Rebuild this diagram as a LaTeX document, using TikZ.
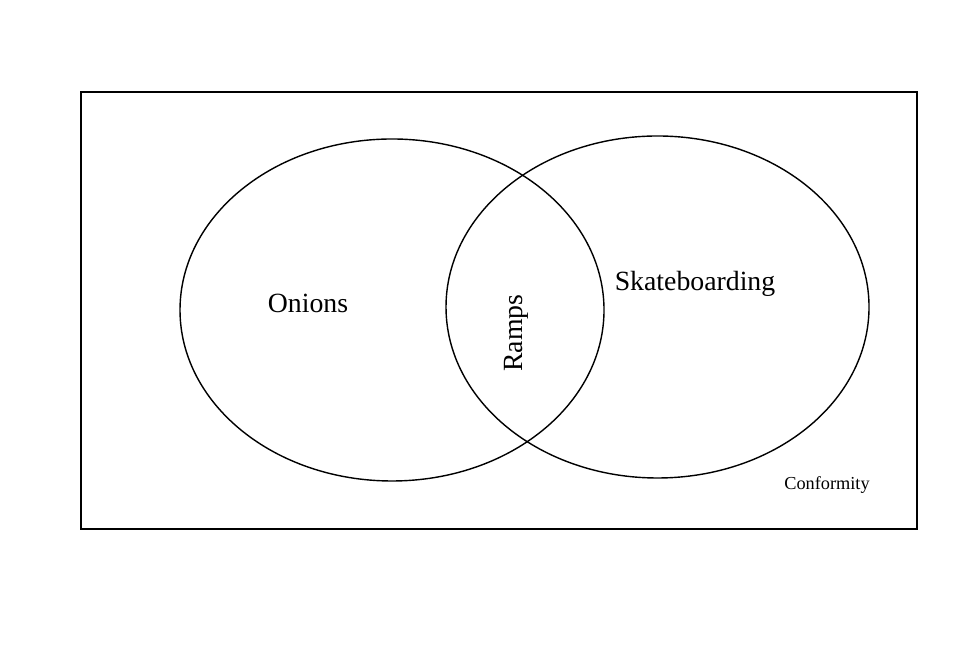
\documentclass[tikz,border=0pt]{standalone}
\usepackage{fontspec}
\setmainfont{Liberation Serif}
\usepackage{tikz}
\usetikzlibrary{positioning}

\begin{document}
\begin{tikzpicture}[x=0.01cm, y=-0.01cm,
  setlabel/.style={font=\fontsize{7.9}{9}\selectfont},
  smalllabel/.style={font=\fontsize{5.2}{6}\selectfont}]
\useasboundingbox (0,0) rectangle (980,662);

\draw (81,92) rectangle (917,529);

\draw (392,310) ellipse [x radius=212, y radius=171];
\draw (657.5,307) ellipse [x radius=211.5, y radius=171];

\node[setlabel] (onions) at (308,303) {Onions};
\node[setlabel, rotate=90] (ramps) at (516,333) {Ramps};
\node[setlabel] (skate) at (695,284) {Skateboarding};
\node[smalllabel] (conf) at (827,485) {Conformity};
\end{tikzpicture}
\end{document}
